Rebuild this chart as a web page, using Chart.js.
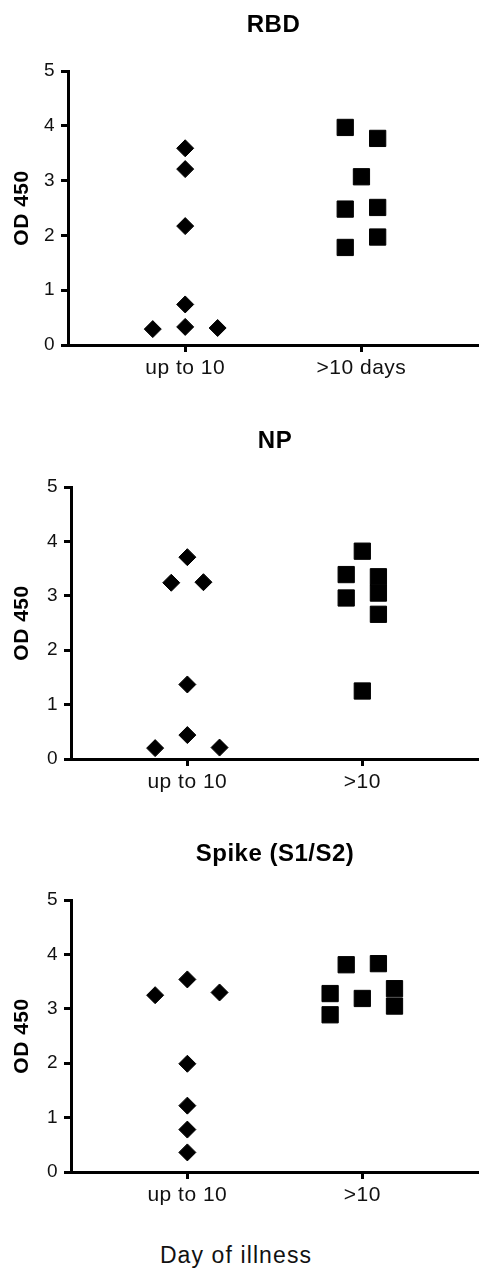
<!DOCTYPE html>
<html><head><meta charset="utf-8">
<script src="https://cdn.jsdelivr.net/npm/chart.js@4"></script>
<style>
html,body{margin:0;padding:0;background:#fff;width:479px;height:1269px;overflow:hidden;position:relative;font-family:"Liberation Sans",Arial,sans-serif;}
canvas{position:absolute;left:0;}
#xlabel{position:absolute;top:1242px;left:0;width:472px;text-align:center;font-size:23px;letter-spacing:1.1px;color:#111;}
</style></head><body>
<canvas id="c1" width="479" height="400" style="top:0px"></canvas>
<canvas id="c2" width="479" height="400" style="top:416px"></canvas>
<canvas id="c3" width="479" height="380" style="top:829px"></canvas>
<div id="xlabel">Day of illness</div>
<script>
// ---- data ----
const titles = ["RBD", "NP", "Spike (S1/S2)"];
const catsRBD = ["up to 10", ">10 days"];
const catsNP = ["up to 10", ">10"];
const catsSpike = ["up to 10", ">10"];
const yTickValues = [0, 1, 2, 3, 4, 5];
const yLabel = "OD 450";

const rbdEarly = [3.59, 3.21, 2.17, 0.74, 0.33, 0.29, 0.31];
const rbdEarlyJitter = [0, 0, 0, 0, 0, -2, 2];
const rbdLate = [3.97, 3.77, 3.07, 2.48, 2.51, 1.97, 1.78];
const rbdLateJitter = [-1, 1, 0, -1, 1, 1, -1];

const npEarly = [3.71, 3.24, 3.25, 1.37, 0.44, 0.20, 0.21];
const npEarlyJitter = [0, -1, 1, 0, 0, -2, 2];
const npLate = [3.82, 3.39, 2.96, 3.35, 3.05, 2.66, 1.25];
const npLateJitter = [0, -1, -1, 1, 1, 1, 0];

const spikeEarly = [3.25, 3.54, 3.30, 1.99, 1.22, 0.78, 0.36];
const spikeEarlyJitter = [-2, 0, 2, 0, 0, 0, 0];
const spikeLate = [3.81, 3.83, 3.28, 2.89, 3.19, 3.37, 3.05];
const spikeLateJitter = [-1, 1, -2, -2, 0, 2, 2];

// ---- drawing ----
const FONT = "'Liberation Sans', Arial, sans-serif";
const JIT = 0.092;

function pts(cat, vals, jit) {
  return vals.map((v, i) => ({ x: cat + jit[i] * JIT, y: v }));
}

const spacingPlugin = {
  id: 'spacing',
  beforeDraw(chart) { try { chart.ctx.letterSpacing = '0.5px'; } catch (e) {} }
};

function makeChart(id, title, cats, early, earlyJ, late, lateJ, g) {
  const canvas = document.getElementById(id);
  return new Chart(canvas, {
    type: 'scatter',
    plugins: [spacingPlugin],
    data: {
      datasets: [
        { data: pts(0, early, earlyJ), pointStyle: 'rectRot', pointRadius: 8.5,
          backgroundColor: '#000', borderColor: '#000', borderWidth: 1, clip: false },
        { data: pts(1, late, lateJ), pointStyle: 'rect', pointRadius: 11.5,
          backgroundColor: '#000', borderColor: '#000', borderWidth: 1, clip: false }
      ]
    },
    options: {
      responsive: false,
      devicePixelRatio: 1,
      animation: false,
      events: [],
      layout: { padding: 0, autoPadding: false },
      plugins: {
        legend: { display: false },
        tooltip: { enabled: false },
        title: {
          display: true, text: title, fullSize: false, color: '#000',
          font: { family: FONT, size: 24, weight: 'bold' },
          padding: { top: 11, bottom: 71 - 11 - 28.8 }
        }
      },
      scales: {
        x: {
          type: 'linear', min: -0.665, max: 1.667,
          afterBuildTicks: (s) => { s.ticks = [{ value: 0 }, { value: 1 }]; },
          afterFit: (s) => { s.height = g.canvasH - 71 - g.plotH; },
          ticks: {
            callback: (v, i) => cats[i], color: '#111', padding: 4,
            autoSkip: false, maxRotation: 0,
            font: { family: FONT, size: 21 }
          },
          grid: { display: true, drawOnChartArea: false, drawTicks: true,
                  tickLength: 7, lineWidth: 3, color: '#000' },
          border: { display: true, width: 3, color: '#000' }
        },
        y: {
          min: 0, max: 5,
          afterBuildTicks: (s) => { s.ticks = yTickValues.map(v => ({ value: v })); },
          afterFit: (s) => { s.width = g.left; },
          ticks: { color: '#111', padding: 6, font: { family: FONT, size: 19 } },
          grid: { display: true, drawOnChartArea: false, drawTicks: true,
                  tickLength: 7, lineWidth: 3, color: '#000' },
          border: { display: true, width: 3, color: '#000' },
          title: { display: true, text: yLabel, color: '#000',
                   font: { family: FONT, size: 21, weight: 'bold' },
                   padding: { top: 9.5, bottom: 0 } }
        }
      }
    }
  });
}

makeChart('c1', titles[0], catsRBD, rbdEarly, rbdEarlyJitter, rbdLate, rbdLateJitter,
  { left: 68, plotH: 274, canvasH: 400 });
makeChart('c2', titles[1], catsNP, npEarly, npEarlyJitter, npLate, npLateJitter,
  { left: 71, plotH: 272, canvasH: 400 });
makeChart('c3', titles[2], catsSpike, spikeEarly, spikeEarlyJitter, spikeLate, spikeLateJitter,
  { left: 71, plotH: 272, canvasH: 380 });
</script>
</body></html>
